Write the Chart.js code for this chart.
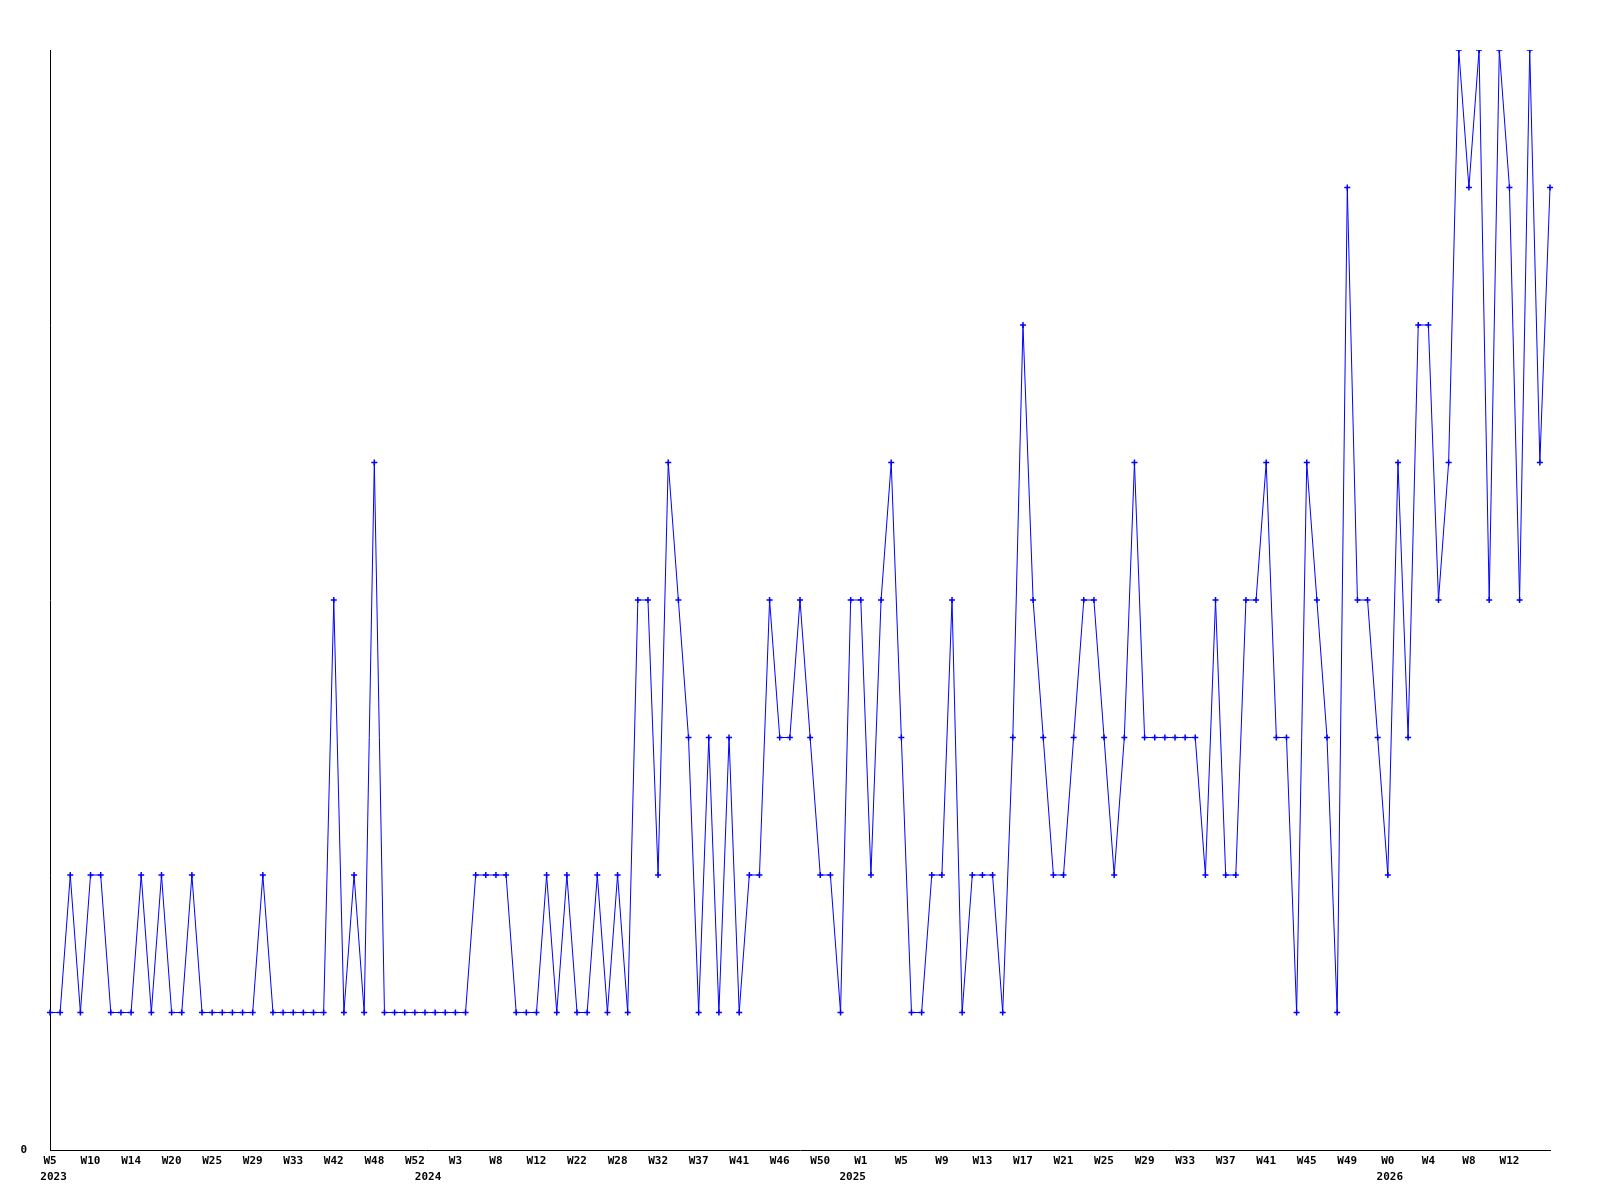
<!DOCTYPE html>
<html>
<head>
<meta charset="utf-8">
<script src="https://cdn.jsdelivr.net/npm/chart.js@4.4.1/dist/chart.umd.min.js"></script>
<style>
  html, body { margin: 0; padding: 0; background: #fff; }
  #wrap { width: 1600px; height: 1200px; }
</style>
</head>
<body>
<div id="wrap"><canvas id="weeklyChart" width="1600" height="1200"></canvas></div>
<script>
// weekly counts, one point per week (W5 2023 .. W13 2026)
const weeklyValues = [
  1, 1, 2, 1, 2, 2, 1, 1, 1, 2,
  1, 2, 1, 1, 2, 1, 1, 1, 1, 1,
  1, 2, 1, 1, 1, 1, 1, 1, 4, 1,
  2, 1, 5, 1, 1, 1, 1, 1, 1, 1,
  1, 1, 2, 2, 2, 2, 1, 1, 1, 2,
  1, 2, 1, 1, 2, 1, 2, 1, 4, 4,
  2, 5, 4, 3, 1, 3, 1, 3, 1, 2,
  2, 4, 3, 3, 4, 3, 2, 2, 1, 4,
  4, 2, 4, 5, 3, 1, 1, 2, 2, 4,
  1, 2, 2, 2, 1, 3, 6, 4, 3, 2,
  2, 3, 4, 4, 3, 2, 3, 5, 3, 3,
  3, 3, 3, 3, 2, 4, 2, 2, 4, 4,
  5, 3, 3, 1, 5, 4, 3, 1, 7, 4,
  4, 3, 2, 5, 3, 6, 6, 4, 5, 8,
  7, 8, 4, 8, 7, 4, 8, 5, 7
];

// labels shown on the x axis, one every TICK_EVERY points
const weekTicks = [
  'W5', 'W10', 'W14', 'W20', 'W25', 'W29', 'W33', 'W42', 'W48', 'W52',
  'W3', 'W8', 'W12', 'W22', 'W28', 'W32', 'W37', 'W41', 'W46', 'W50',
  'W1', 'W5', 'W9', 'W13', 'W17', 'W21', 'W25', 'W29', 'W33', 'W37',
  'W41', 'W45', 'W49', 'W0', 'W4', 'W8', 'W12'
];
const TICK_EVERY = 4;

// year labels under the axis and the (week index) where each one sits
const yearLabels = ['2023', '2024', '2025', '2026'];
const yearIndex = [0.35, 37.3, 79.2, 132.2];

const yTicks = [0];
const Y_MAX = 8;

const FONT = { family: '"DejaVu Sans Mono", "Liberation Mono", monospace', size: 11, weight: 'bold' };

// draws the year row under the week labels
const yearRowPlugin = {
  id: 'yearRow',
  afterDraw(chart) {
    const ctx = chart.ctx;
    const xScale = chart.scales.x;
    ctx.save();
    ctx.font = `bold ${FONT.size}px ${FONT.family}`;
    ctx.fillStyle = '#000';
    ctx.textAlign = 'center';
    ctx.textBaseline = 'middle';
    yearLabels.forEach((yr, i) => {
      ctx.fillText(yr, xScale.getPixelForValue(yearIndex[i]), chart.chartArea.bottom + 27);
    });
    ctx.restore();
  }
};

const chart = new Chart(document.getElementById('weeklyChart').getContext('2d'), {
  type: 'line',
  data: {
    labels: weeklyValues.map((v, i) => i),
    datasets: [{
      data: weeklyValues,
      borderColor: '#0000ff',
      borderWidth: 1,
      backgroundColor: '#0000ff',
      pointStyle: 'cross',
      pointRadius: 3,
      pointBorderWidth: 1.5,
      pointBorderColor: '#0000ff',
      tension: 0,
      fill: false
    }]
  },
  options: {
    responsive: false,
    animation: false,
    layout: { padding: { top: 50, right: 50, left: 0, bottom: 0 } },
    plugins: {
      legend: { display: false },
      tooltip: { enabled: false },
      title: { display: false }
    },
    scales: {
      x: {
        type: 'category',
        offset: false,
        grid: { display: false, drawTicks: false },
        border: { display: true, color: '#000', width: 1 },
        ticks: {
          autoSkip: false,
          maxRotation: 0,
          minRotation: 0,
          padding: 5,
          color: '#000',
          font: FONT,
          callback: (val, index) => index % TICK_EVERY === 0 ? weekTicks[index / TICK_EVERY] : null
        },
        afterFit: (scale) => { scale.height = 50; }
      },
      y: {
        min: 0,
        max: Y_MAX,
        grid: { display: false, drawTicks: false },
        border: { display: true, color: '#000', width: 1 },
        ticks: {
          stepSize: Y_MAX,
          padding: 23,
          color: '#000',
          font: FONT,
          callback: (val) => yTicks.includes(val) ? String(val) : ''
        },
        afterFit: (scale) => { scale.width = 50; }
      }
    }
  },
  plugins: [yearRowPlugin]
});
</script>
</body>
</html>
